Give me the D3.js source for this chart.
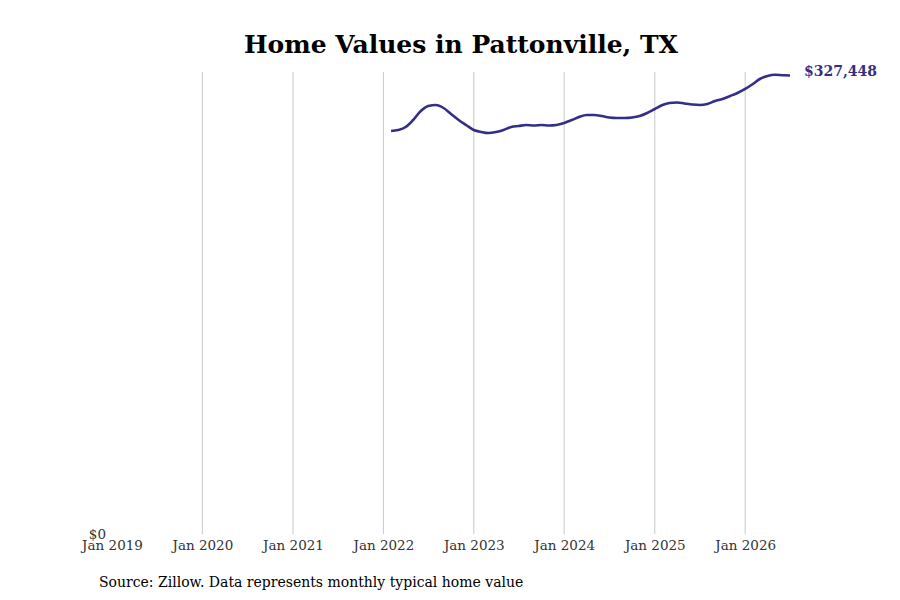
<!DOCTYPE html>
<html>
<head>
<meta charset="utf-8">
<script src="https://cdn.jsdelivr.net/npm/d3@7"></script>
<style>
  body { margin: 0; background: #fff; }
  text { font-family: "DejaVu Serif", serif; }
</style>
</head>
<body>
<div id="chart"></div>
<script>
// Monthly typical home value, Feb 2022 - Jul 2026
const months = [
  "2022-02", "2022-03", "2022-04", "2022-05", "2022-06", "2022-07", "2022-08", "2022-09", "2022-10", "2022-11", "2022-12",
  "2023-01", "2023-02", "2023-03", "2023-04", "2023-05", "2023-06", "2023-07", "2023-08", "2023-09", "2023-10", "2023-11", "2023-12",
  "2024-01", "2024-02", "2024-03", "2024-04", "2024-05", "2024-06", "2024-07", "2024-08", "2024-09", "2024-10", "2024-11", "2024-12",
  "2025-01", "2025-02", "2025-03", "2025-04", "2025-05", "2025-06", "2025-07", "2025-08", "2025-09", "2025-10", "2025-11", "2025-12",
  "2026-01", "2026-02", "2026-03", "2026-04", "2026-05", "2026-06", "2026-07"
];
const values = [
  287860, 288570, 290710, 295720, 302140, 305720, 306430, 304290, 300000, 295720, 292140,
  288570, 287140, 286430, 287140, 288570, 290710, 291430, 292140, 291790, 292140, 291790, 292140,
  293570, 295720, 297860, 299290, 299290, 298570, 297500, 297140, 297140, 297500, 298570, 300720,
  303570, 306430, 307860, 308220, 307500, 306790, 306430, 307140, 309290, 310710, 312860, 315000,
  317860, 321430, 325000, 327140, 328000, 327700, 327448
];
const tickYears = ["2019", "2020", "2021", "2022", "2023", "2024", "2025", "2026"];
const title = "Home Values in Pattonville, TX";
const source = "Source: Zillow. Data represents monthly typical home value";

const width = 900;
const height = 600;
const parse = d3.timeParse("%Y-%m");
const data = months.map((m, i) => ({ date: parse(m), value: values[i] }));

const svg = d3.select("#chart")
  .append("svg")
  .attr("width", width)
  .attr("height", height);

const x = d3.scaleTime()
  .domain([parse("2019-01"), parse("2026-07")])
  .range([112, 790]);

const y = d3.scaleLinear()
  .domain([0, 330000])
  .range([534, 72]);

// vertical gridlines at each January (except the first)
const ticks = tickYears.map((t) => parse(t + "-01"));
svg.append("g")
  .selectAll("line")
  .data(ticks.slice(1))
  .enter()
  .append("line")
  .attr("x1", (d) => x(d))
  .attr("x2", (d) => x(d))
  .attr("y1", y.range()[1])
  .attr("y2", y.range()[0])
  .style("stroke", "#c8c8c8")
  .style("stroke-width", 1);

// x axis labels
const xAxis = d3.axisBottom(x)
  .tickValues(ticks)
  .tickFormat(d3.timeFormat("Jan %Y"))
  .tickSize(0)
  .tickPadding(6);
svg.append("g")
  .attr("transform", `translate(0,${y(0)})`)
  .call(xAxis)
  .call((g) => g.select(".domain").remove())
  .call((g) => g.selectAll("text")
    .style("font-family", "DejaVu Serif, serif")
    .style("font-size", "13.5px")
    .style("fill", "#333"));

// y axis: only $0
const yAxis = d3.axisLeft(y)
  .tickValues([0])
  .tickFormat((d) => "$" + d3.format(",")(d))
  .tickSize(0)
  .tickPadding(6);
svg.append("g")
  .attr("transform", `translate(112,0)`)
  .call(yAxis)
  .call((g) => g.select(".domain").remove())
  .call((g) => g.selectAll("text")
    .style("font-family", "DejaVu Serif, serif")
    .style("font-size", "13.5px")
    .style("fill", "#333"));

// the line
const line = d3.line()
  .x((d) => x(d.date))
  .y((d) => y(d.value))
  .curve(d3.curveMonotoneX);

svg.append("path")
  .datum(data)
  .attr("d", line)
  .style("fill", "none")
  .style("stroke", "#332e88")
  .style("stroke-width", 2.6);

// last value label
const last = data[data.length - 1];
svg.append("text")
  .attr("x", x(last.date) + 14)
  .attr("y", y(last.value))
  .attr("dy", "0.05em")
  .style("font-size", "14px")
  .style("font-weight", "bold")
  .style("fill", "#332e88")
  .text("$" + d3.format(",")(last.value));

// title
svg.append("text")
  .attr("x", 461)
  .attr("y", 53)
  .attr("text-anchor", "middle")
  .style("font-size", "25px")
  .style("font-weight", "bold")
  .style("fill", "#000")
  .text(title);

// source
svg.append("text")
  .attr("x", 99)
  .attr("y", 587)
  .style("font-size", "14px")
  .style("fill", "#000")
  .text(source);
</script>
</body>
</html>
